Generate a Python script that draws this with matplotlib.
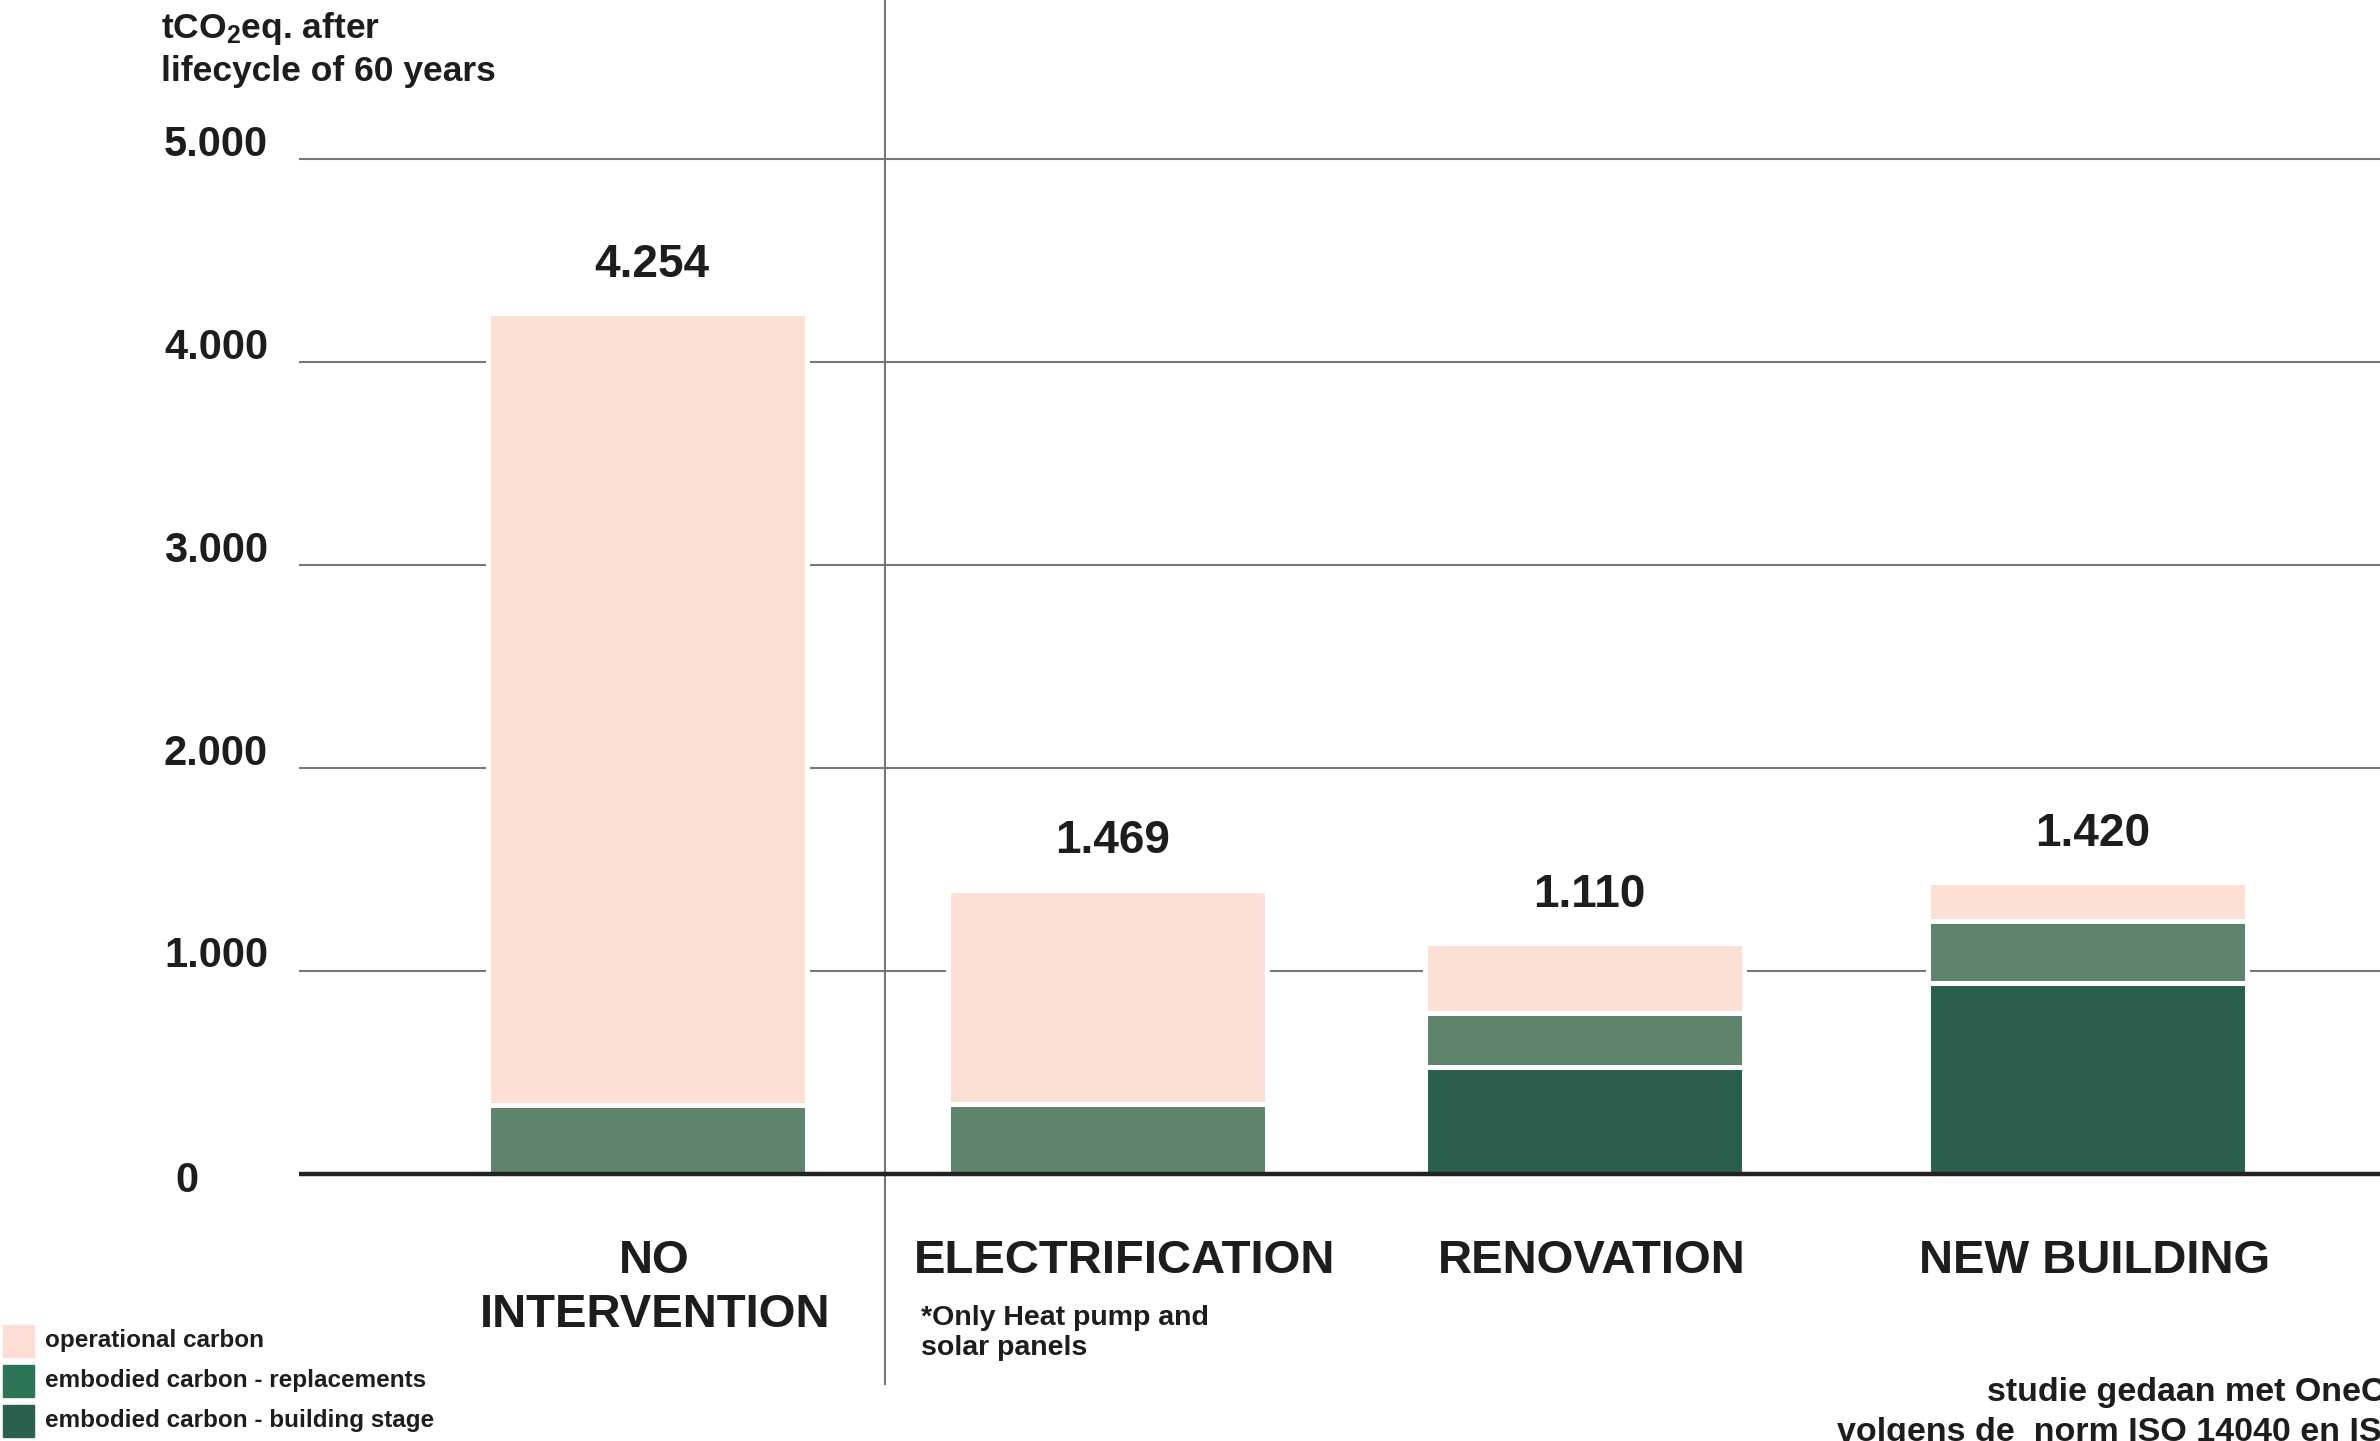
import matplotlib
matplotlib.use('Agg')
import matplotlib.pyplot as plt
import numpy as np

plt.rcParams['font.family'] = ['Liberation Sans', 'DejaVu Sans']
plt.rcParams['font.weight'] = 'bold'
plt.rcParams['mathtext.fontset'] = 'custom'
plt.rcParams['mathtext.rm'] = 'Liberation Sans:bold'
plt.rcParams['mathtext.it'] = 'Liberation Sans:bold'

# data
categories = ['NO\nINTERVENTION', 'ELECTRIFICATION', 'RENOVATION', 'NEW BUILDING']
building_stage = [0, 0, 527, 940]
replacements = [340, 345, 262, 306]
operational = [3901, 1055, 347, 190]
total_labels = ['4.254', '1.469', '1.110', '1.420']
yticks = [0, 1000, 2000, 3000, 4000, 5000]
ytick_labels = ['0', '1.000', '2.000', '3.000', '4.000', '5.000']
legend_labels = ['operational carbon', 'embodied carbon - replacements',
                 'embodied carbon - building stage']

c_oper = '#fce0d6'
c_repl = '#5e856b'
c_build = '#2a5e4d'
legend_colors = ['#fdddd3', '#2b7556', '#2a604d']

fig = plt.figure(figsize=(23.8, 14.41), dpi=100)
ax = fig.add_axes([0, 0, 1, 1])
ax.set_xlim(-1.331, 3.635)
ax.set_ylim(-1318, 5784)
ax.axis('off')

# bar positions (layout, not evenly spaced in the original)
x = np.array([0.02, 0.98, 1.975, 3.025])
label_dx = [0.015, 0.035, 0.015, 0.015]
bs = np.array(building_stage)
rp = np.array(replacements)
op = np.array(operational)

# grid lines and axis
ax.hlines(yticks[1:], -0.707, 3.635, color='#777777', lw=1.5, zorder=1)
ax.hlines(0, -0.707, 3.635, color='#222222', lw=3.2, zorder=4)
ax.plot([0.516, 0.516], [-1036, 5784], color='#777777', lw=1.5, zorder=1, clip_on=False)

for v, lab in zip(yticks, ytick_labels):
    if v == 0:
        ax.text(-0.966, v - 35, lab, fontsize=30, ha='left', va='center', color='#1d1d1d')
    else:
        ax.text(-0.989, v + 70, lab, fontsize=30, ha='left', va='center', color='#1d1d1d')

bw = 0.666
kw = dict(width=bw, edgecolor='white', linewidth=3.6, zorder=3)
ax.bar(x, bs, color=c_build, **kw)
ax.bar(x, rp, bottom=bs, color=c_repl, **kw)
ax.bar(x, op, bottom=bs + rp, color=c_oper, **kw)

tops = bs + rp + op
for xi, t, lab in zip(x, tops, total_labels):
    ax.text(xi + 0.01, t + 130, lab, fontsize=33, ha='center', va='bottom', color='#1d1d1d')

for xi, dx, lab in zip(x, label_dx, categories):
    ax.text(xi + dx, -320, lab, fontsize=34, ha='center', va='top', color='#1d1d1d',
            linespacing=1.3)

ax.text(0.59, -650, '*Only Heat pump and\nsolar panels', fontsize=20.5, ha='left', va='top',
        color='#1d1d1d', linespacing=1.2)

# y label
fig.text(161 / 2380, 1 - 10 / 1441, 'tCO$_2$eq. after\nlifecycle of 60 years', fontsize=25.5,
         ha='left', va='top', color='#1d1d1d', linespacing=1.3)

# legend
for i, (lab, col) in enumerate(zip(legend_labels, legend_colors)):
    yc = 1 - (1341 + 40 * i) / 1441
    fig.patches.append(plt.Rectangle((3 / 2380, yc - 16 / 1441), 31 / 2380, 32 / 1441,
                                     transform=fig.transFigure, color=col))
    fig.text(45 / 2380, yc, lab, fontsize=17.5, ha='left', va='center', color='#1d1d1d')

# source note (runs off the right edge, as in the original)
fig.text(1987 / 2380, 1 - 1392 / 1441, 'studie gedaan met OneClick LCA', fontsize=24.5,
         ha='left', va='center', color='#1d1d1d')
fig.text(1837 / 2380, 1 - 1432 / 1441, 'volgens de  norm ISO 14040 en ISO 14044', fontsize=24.5,
         ha='left', va='center', color='#1d1d1d')

fig.savefig('out.png', dpi=100)
